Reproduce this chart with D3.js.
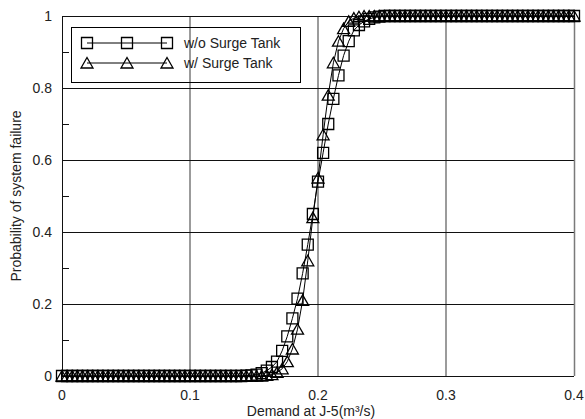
<!DOCTYPE html>
<html>
<head>
<meta charset="utf-8">
<script src="https://cdn.jsdelivr.net/npm/d3@7"></script>
<style>
  body { margin: 0; background: #fff; }
  text { font-family: "Liberation Sans", Arial, sans-serif; }
</style>
</head>
<body>
<view></view>
<script>
// demand grid, step 0.004 from 0 to 0.4
var step = 0.004;
var demand = d3.range(101).map(function(i) { return +(i * step).toFixed(3); });

// w/o surge tank (squares)
var noTank = [
  0,0,0,0,0,0,0,0,0,0,
  0,0,0,0,0,0,0,0,0,0,
  0,0,0,0,0,0,0,0,0,0,
  0,0,0,0,0,0,0.001,0.002,0.004,0.008,
  0.015,0.025,0.04,0.07,0.11,0.16,0.215,0.285,0.365,0.45,
  0.54,0.62,0.70,0.77,0.835,0.89,0.93,0.96,0.975,0.985,
  0.992,0.996,0.998,1,1,1,1,1,1,1,
  1,1,1,1,1,1,1,1,1,1,
  1,1,1,1,1,1,1,1,1,1,
  1,1,1,1,1,1,1,1,1,1,
  1
];

// w/ surge tank (triangles)
var withTank = [
  0,0,0,0,0,0,0,0,0,0,
  0,0,0,0,0,0,0,0,0,0,
  0,0,0,0,0,0,0,0,0,0,
  0,0,0,0,0,0,0,0,0,0,
  0.002,0.004,0.01,0.02,0.04,0.075,0.13,0.21,0.32,0.44,
  0.55,0.67,0.78,0.87,0.93,0.965,0.985,0.994,0.998,1,
  1,1,1,1,1,1,1,1,1,1,
  1,1,1,1,1,1,1,1,1,1,
  1,1,1,1,1,1,1,1,1,1,
  1,1,1,1,1,1,1,1,1,1,
  1
];

var seriesNames = ["w/o Surge Tank", "w/ Surge Tank"];
var xTicks = [0, 0.1, 0.2, 0.3, 0.4];
var yTicks = [0, 0.2, 0.4, 0.6, 0.8, 1];
var yMinor = [0.1, 0.3, 0.5, 0.7, 0.9];

var width = 585, height = 419;
var pLeft = 62, pRight = 574, pTop = 16, pBottom = 376;

var svg = d3.select("view")
    .append("svg")
    .attr("width", width)
    .attr("height", height);

var x = d3.scaleLinear().domain([0, 0.4]).range([pLeft, pRight]);
var y = d3.scaleLinear().domain([0, 1]).range([pBottom, pTop]);

// vertical grid
svg.append("g")
    .selectAll("line")
    .data(xTicks.slice(1, -1))
    .enter().append("line")
    .attr("x1", function(d) { return x(d); })
    .attr("x2", function(d) { return x(d); })
    .attr("y1", pTop)
    .attr("y2", pBottom)
    .attr("stroke", "#7a7a7a")
    .attr("stroke-width", 1.5);

// horizontal grid
svg.append("g")
    .selectAll("line")
    .data(yTicks.slice(1, -1))
    .enter().append("line")
    .attr("x1", pLeft)
    .attr("x2", pRight)
    .attr("y1", function(d) { return Math.round(y(d)) + 0.5; })
    .attr("y2", function(d) { return Math.round(y(d)) + 0.5; })
    .attr("stroke", "#111")
    .attr("stroke-width", 1);

// minor ticks on the left
svg.append("g")
    .selectAll("line")
    .data(yMinor)
    .enter().append("line")
    .attr("x1", pLeft)
    .attr("x2", pLeft + 7)
    .attr("y1", function(d) { return Math.round(y(d)) + 0.5; })
    .attr("y2", function(d) { return Math.round(y(d)) + 0.5; })
    .attr("stroke", "#111");

// frame
svg.append("line")
    .attr("x1", pRight + 0.5).attr("x2", pRight + 0.5)
    .attr("y1", pTop).attr("y2", pBottom)
    .attr("stroke", "#7a7a7a").attr("stroke-width", 1.5);
svg.append("line")
    .attr("x1", pLeft).attr("x2", pRight)
    .attr("y1", pTop + 0.5).attr("y2", pTop + 0.5)
    .attr("stroke", "#111");
svg.append("line")
    .attr("x1", pLeft + 0.5).attr("x2", pLeft + 0.5)
    .attr("y1", pTop).attr("y2", pBottom)
    .attr("stroke", "#111");
svg.append("line")
    .attr("x1", pLeft).attr("x2", pRight)
    .attr("y1", pBottom + 0.5).attr("y2", pBottom + 0.5)
    .attr("stroke", "#111");

// tick labels
svg.append("g")
    .selectAll("text")
    .data(yTicks)
    .enter().append("text")
    .attr("x", 52)
    .attr("y", function(d) { return y(d) + 5; })
    .attr("text-anchor", "end")
    .attr("font-size", 14)
    .attr("fill", "#222")
    .text(function(d) { return d; });

svg.append("g")
    .selectAll("text")
    .data(xTicks)
    .enter().append("text")
    .attr("x", function(d) { return x(d); })
    .attr("y", 400)
    .attr("text-anchor", "middle")
    .attr("font-size", 14)
    .attr("fill", "#222")
    .text(function(d) { return d; });

// axis titles
svg.append("text")
    .attr("x", 311)
    .attr("y", 416)
    .attr("text-anchor", "middle")
    .attr("font-size", 14)
    .attr("fill", "#222")
    .text("Demand at J-5(m³/s)");

svg.append("text")
    .attr("transform", "translate(21," + ((pTop + pBottom) / 2) + ") rotate(-90)")
    .attr("text-anchor", "middle")
    .attr("font-size", 14)
    .attr("fill", "#222")
    .text("Probability of system failure");

// marker shapes
var square = "M-5.5,-5.5H5.5V5.5H-5.5Z";
var triangle = "M0,-5.5L6,5H-6Z";

var line = d3.line()
    .x(function(d) { return x(d[0]); })
    .y(function(d) { return y(d[1]); });

function drawSeries(vals, shape) {
    var pts = demand.map(function(d, i) { return [d, vals[i]]; });
    svg.append("path")
        .datum(pts)
        .attr("fill", "none")
        .attr("stroke", "#000")
        .attr("stroke-width", 1)
        .attr("d", line);
    svg.append("g")
        .selectAll("path")
        .data(pts)
        .enter().append("path")
        .attr("transform", function(d) { return "translate(" + x(d[0]) + "," + y(d[1]) + ")"; })
        .attr("d", shape)
        .attr("fill", "none")
        .attr("stroke", "#000")
        .attr("stroke-width", 1.3);
}

drawSeries(noTank, square);
drawSeries(withTank, triangle);

// legend
var lg = svg.append("g");
lg.append("rect")
    .attr("x", 71.5)
    .attr("y", 27.5)
    .attr("width", 229)
    .attr("height", 55)
    .attr("fill", "none")
    .attr("stroke", "#000");

[square, triangle].forEach(function(shape, i) {
    var ly = 43 + i * 20;
    lg.append("line")
        .attr("x1", 87).attr("x2", 167)
        .attr("y1", ly).attr("y2", ly)
        .attr("stroke", "#000");
    [87, 127, 167].forEach(function(mx) {
        lg.append("path")
            .attr("transform", "translate(" + mx + "," + ly + ")")
            .attr("d", shape)
            .attr("fill", "none")
            .attr("stroke", "#000")
            .attr("stroke-width", 1.3);
    });
    lg.append("text")
        .attr("x", 184)
        .attr("y", ly + 5)
        .attr("font-size", 14)
        .attr("fill", "#222")
        .text(seriesNames[i]);
});
</script>
</body>
</html>
